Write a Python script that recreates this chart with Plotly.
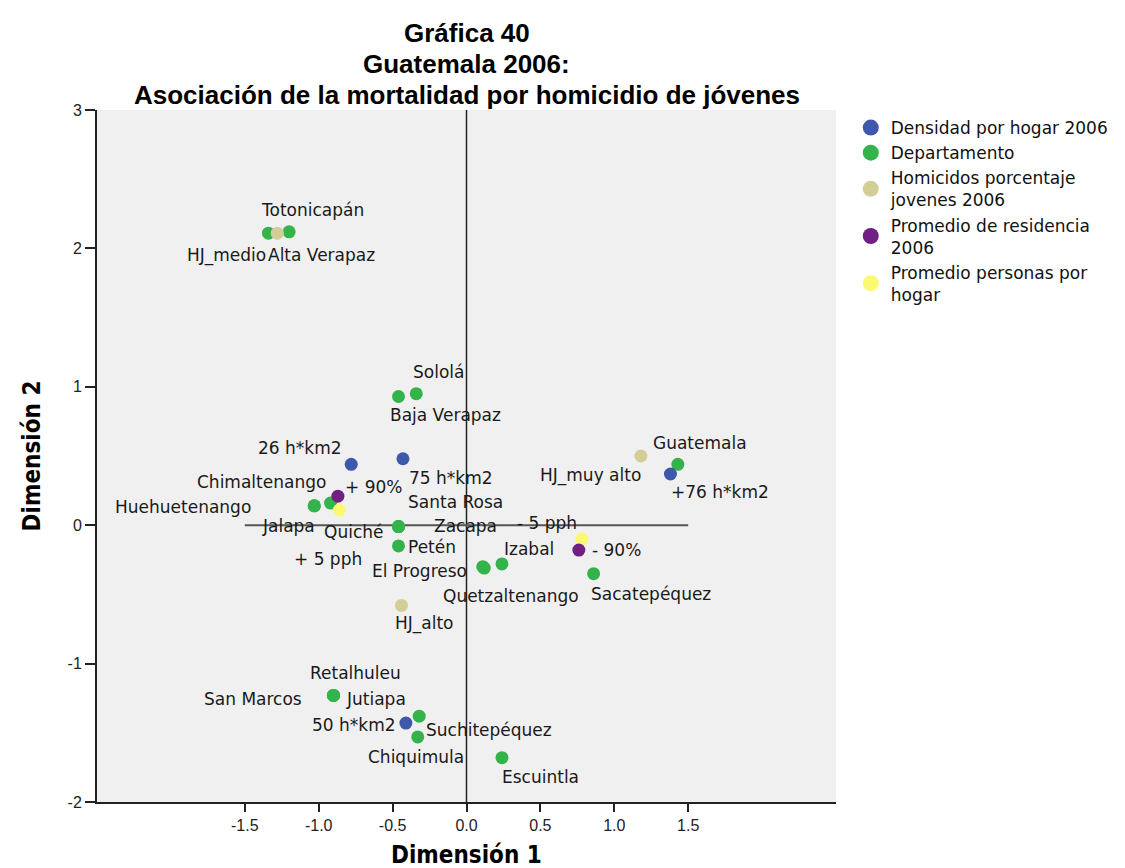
import plotly.graph_objects as go

# ---------------- data ----------------
dens_labels = ["26 h*km2", "75 h*km2", "+76 h*km2", "50 h*km2"]
dens_x = [-0.78, -0.43, 1.38, -0.41]
dens_y = [0.44, 0.48, 0.37, -1.43]

dept_labels = ["Alta Verapaz", "Totonicapán", "Baja Verapaz", "Sololá",
               "Huehuetenango", "Chimaltenango", "Jalapa", "Quiché",
               "Santa Rosa", "Zacapa", "Petén", "El Progreso", "Izabal",
               "Quetzaltenango", "Guatemala", "Sacatepéquez", "San Marcos",
               "Retalhuleu", "Jutiapa", "Suchitepéquez", "Chiquimula", "Escuintla"]
dept_x = [-1.34, -1.20, -0.46, -0.34,
          -1.03, -0.92, -1.03, -0.46,
          -0.46, -0.46, -0.46, 0.11, 0.24,
          0.12, 1.43, 0.86, -0.90,
          -0.90, -0.90, -0.32, -0.33, 0.24]
dept_y = [2.11, 2.12, 0.93, 0.95,
          0.14, 0.16, 0.14, -0.01,
          -0.01, -0.01, -0.15, -0.30, -0.28,
          -0.31, 0.44, -0.35, -1.23,
          -1.23, -1.23, -1.38, -1.53, -1.68]

hom_labels = ["HJ_medio", "HJ_muy alto", "HJ_alto"]
hom_x = [-1.28, 1.18, -0.44]
hom_y = [2.11, 0.50, -0.58]

res_labels = ["+ 90%", "- 90%"]
res_x = [-0.87, 0.76]
res_y = [0.21, -0.18]

pph_labels = ["+ 5 pph", "- 5 pph"]
pph_x = [-0.86, 0.78]
pph_y = [0.11, -0.10]

x_ticks = [-1.5, -1.0, -0.5, 0.0, 0.5, 1.0, 1.5]
y_ticks = [-2, -1, 0, 1, 2, 3]

title_lines = ["Gráfica 40", "Guatemala 2006:",
               "Asociación de la mortalidad por homicidio de jóvenes"]

# ---------------- label placement (pixel offsets from the point) ----------------
label_offsets = {
    "HJ_medio": (-51, -22), "Alta Verapaz": (53, -22), "Totonicapán": (23, 22),
    "Sololá": (22, 22), "Baja Verapaz": (47, -19),
    "26 h*km2": (-51, 16), "75 h*km2": (48, -19), "+ 90%": (36, 9),
    "Chimaltenango": (-69, 21), "Huehuetenango": (-131, -1), "Jalapa": (-26, -20),
    "+ 5 pph": (-11, -49), "Quiché": (-45, -5), "Santa Rosa": (57, 25),
    "Zacapa": (67, 1), "Petén": (33, -1), "El Progreso": (-63, -4),
    "Izabal": (27, 15), "Quetzaltenango": (27, -28), "HJ_alto": (23, -18),
    "HJ_muy alto": (-50, -19), "Guatemala": (22, 21), "+76 h*km2": (50, -18),
    "- 5 pph": (-35, 16), "- 90%": (38, 0), "Sacatepéquez": (57, -20),
    "Retalhuleu": (22, 22), "San Marcos": (-80, -4), "Jutiapa": (43, -4),
    "Suchitepéquez": (70, -14), "Chiquimula": (-2, -20), "50 h*km2": (-52, -2),
    "Escuintla": (39, -19),
}
title_shifts = [77, 46, 15]   # px above plot top for each title line

FONT = "DejaVu Sans, Verdana, sans-serif"
TITLEFONT = "Liberation Sans, Arial, sans-serif"
TICKFONT = "Liberation Sans, Arial, sans-serif"
NARROW = "Liberation Sans Narrow, Arial Narrow, DejaVu Sans Condensed, sans-serif"

series = [
    # name, labels, x, y, color, legend rank  (draw order: list order)
    ("Departamento", dept_labels, dept_x, dept_y, "#33B34A", 2),
    ("Homicidos porcentaje<br>jovenes 2006", hom_labels, hom_x, hom_y, "#D3CE97", 3),
    ("Densidad por hogar 2006", dens_labels, dens_x, dens_y, "#3E58AC", 1),
    ("Promedio personas por<br>hogar", pph_labels, pph_x, pph_y, "#FBF873", 5),
    ("Promedio de residencia<br>2006", res_labels, res_x, res_y, "#702082", 4),
]

fig = go.Figure()
annotations = []
for name, labs, xs, ys, col, rank in series:
    fig.add_trace(go.Scatter(
        x=xs, y=ys, mode="markers", name=name, showlegend=False, legendgroup=name,
        marker=dict(size=13, color=col, line=dict(width=0)),
        text=labs, hoverinfo="text+x+y",
    ))
    # legend entry (larger symbol, as in the reference legend)
    fig.add_trace(go.Scatter(
        x=[None], y=[None], mode="markers", name=name, legendrank=rank,
        legendgroup=name, marker=dict(size=19, color=col, line=dict(width=0)),
    ))
    for lab, xv, yv in zip(labs, xs, ys):
        dx, dy = label_offsets[lab]
        annotations.append(dict(
            x=xv, y=yv, xref="x", yref="y", text=lab, showarrow=False,
            xanchor="center", yanchor="middle", xshift=dx, yshift=dy,
            font=dict(family=FONT, size=17, color="#1a1a1a"),
        ))

for line, sh in zip(title_lines, title_shifts):
    annotations.append(dict(
        x=0.5, y=1, xref="paper", yref="paper", yanchor="middle", xanchor="center",
        yshift=sh, showarrow=False, text=f"<b>{line}</b>",
        font=dict(family=TITLEFONT, size=26, color="#000"),
    ))

annotations.append(dict(
    x=0.5, y=0, xref="paper", yref="paper", yanchor="middle", xanchor="center",
    yshift=-53, showarrow=False, text="<b>Dimensión 1</b>",
    font=dict(family=NARROW, size=24, color="#000"),
))

fig.add_shape(type="line", xref="x", yref="y", x0=0, x1=0, y0=-2, y1=3,
              line=dict(color="#222", width=1.5), layer="below")
fig.add_shape(type="line", xref="x", yref="y", x0=-1.5, x1=1.5, y0=0, y1=0,
              line=dict(color="#555", width=2), layer="below")

fig.update_layout(
    width=1125, height=868,
    margin=dict(l=89, r=297, t=102, b=74, autoexpand=False),
    paper_bgcolor="white", plot_bgcolor="#F0F0F0",
    annotations=annotations,
    showlegend=True,
    legend=dict(x=1.02, y=1.0, xanchor="left", yanchor="top",
                font=dict(family=FONT, size=17, color="#111"),
                itemsizing="trace", tracegroupgap=0, bgcolor="rgba(0,0,0,0)"),
    xaxis=dict(range=[-2.5, 2.5], tickvals=x_ticks, ticktext=[f"{v:.1f}" for v in x_ticks],
               showgrid=False, zeroline=False, showline=True, linecolor="#222", linewidth=2,
               ticks="outside", ticklen=8, tickcolor="#222", tickwidth=1.5, automargin=False,
               tickfont=dict(family=TICKFONT, size=16, color="#222")),
    yaxis=dict(range=[-2, 3], tickvals=y_ticks, ticktext=[str(v) for v in y_ticks],
               automargin=False,
               showgrid=False, zeroline=False, showline=True, linecolor="#222", linewidth=2,
               ticks="outside", ticklen=10, tickcolor="#222", tickwidth=1.5,
               tickfont=dict(family=TICKFONT, size=16, color="#222"),
               title=dict(text="<b>Dimensión 2</b>", standoff=20,
                          font=dict(family=NARROW, size=24, color="#000"))),
)

fig.write_html("out.html")
